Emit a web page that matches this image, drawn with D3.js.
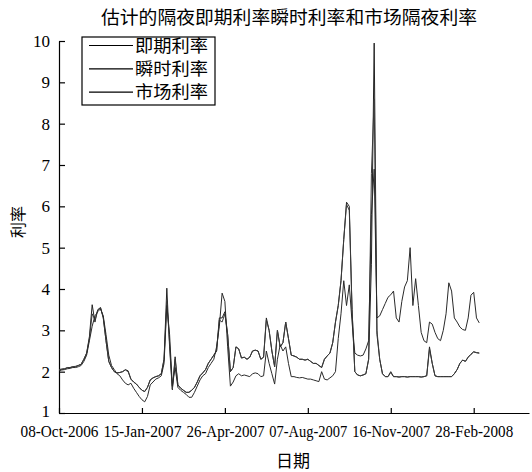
<!DOCTYPE html>
<html>
<head>
<meta charset="utf-8">
<script src="https://cdn.jsdelivr.net/npm/d3@7"></script>
<style>
  body { margin: 0; background: #fff; }
</style>
</head>
<body>
<div class="chart"></div>
<script>
// 即期利率 (estimated overnight spot rate)
const spotRate = [
  2.05, 2.06, 2.07, 2.1, 2.1, 2.12, 2.12, 2.15, 2.18, 2.3,
  2.45, 2.85, 3.62, 3.2, 3.5, 3.55, 3.3, 2.75, 2.25, 2.1,
  2.0, 1.97, 1.98, 2.0, 2.05, 2.02, 1.82, 1.75, 1.7, 1.62,
  1.55, 1.52, 1.62, 1.8, 1.85, 1.88, 1.9, 1.95, 2.3, 4.02,
  2.6, 1.56, 2.36, 1.68, 1.6, 1.55, 1.5, 1.5, 1.55, 1.62,
  1.75, 1.9, 1.97, 2.05, 2.2, 2.3, 2.4, 2.5, 3.3, 3.3,
  3.45, 2.9, 2.0, 2.1, 2.6, 2.55, 2.33, 2.35, 2.3, 2.35,
  2.5, 2.52, 2.5, 2.3, 2.35, 3.3, 3.0, 2.5, 2.12, 3.0,
  2.6, 2.7, 3.2, 2.8, 2.4, 2.38, 2.35, 2.3, 2.3, 2.28,
  2.3, 2.25, 2.2, 2.2, 2.15, 2.1, 2.3, 2.38, 2.45, 2.7,
  3.2, 3.6, 4.2, 5.2, 6.1, 6.0, 3.5, 2.0, 1.92, 1.9,
  1.92, 1.95, 2.3, 4.6, 9.95, 2.9, 2.3, 1.95, 1.88, 1.88,
  2.0, 1.88, 1.88, 1.87, 1.88, 1.88, 1.87, 1.88, 1.88, 1.88,
  1.88, 1.87, 1.88, 1.9, 2.6, 2.2, 1.9, 1.88, 1.88, 1.88,
  1.88, 1.88, 1.88, 1.95, 2.05, 2.2, 2.28, 2.25, 2.35, 2.42,
  2.48, 2.46, 2.45
];

// 瞬时利率 (estimated instantaneous rate)
const instantRate = [
  2.05, 2.06, 2.07, 2.09, 2.1, 2.12, 2.13, 2.15, 2.18, 2.3,
  2.45, 2.8, 3.4, 3.25, 3.48, 3.55, 3.32, 2.75, 2.25, 2.1,
  2.0, 1.97, 1.98, 2.0, 2.04, 2.0, 1.82, 1.75, 1.7, 1.62,
  1.55, 1.52, 1.62, 1.8, 1.85, 1.88, 1.9, 1.95, 2.3, 3.7,
  2.7, 1.58, 2.3, 1.68, 1.6, 1.55, 1.5, 1.5, 1.55, 1.62,
  1.75, 1.9, 1.97, 2.05, 2.2, 2.3, 2.4, 2.5, 3.25, 3.2,
  3.4, 2.9, 2.0, 2.1, 2.6, 2.55, 2.33, 2.35, 2.3, 2.35,
  2.5, 2.52, 2.5, 2.3, 2.35, 3.25, 3.0, 2.5, 2.12, 3.0,
  2.6, 2.7, 3.2, 2.8, 2.4, 2.38, 2.35, 2.3, 2.3, 2.28,
  2.3, 2.25, 2.2, 2.2, 2.15, 2.1, 2.3, 2.38, 2.45, 2.7,
  3.2, 3.6, 4.2, 5.2, 6.05, 5.9, 3.5, 2.0, 1.92, 1.9,
  1.92, 1.95, 2.3, 6.8, 8.6, 3.0, 2.3, 1.95, 1.88, 1.88,
  1.98, 1.88, 1.88, 1.87, 1.88, 1.88, 1.87, 1.88, 1.88, 1.88,
  1.88, 1.87, 1.88, 1.9, 2.55, 2.2, 1.9, 1.88, 1.88, 1.88,
  1.88, 1.88, 1.88, 1.95, 2.05, 2.2, 2.28, 2.25, 2.35, 2.42,
  2.48, 2.46, 2.45
];

// 市场利率 (market overnight rate)
const marketRate = [
  2.02, 2.04, 2.05, 2.07, 2.08, 2.1, 2.1, 2.12, 2.15, 2.25,
  2.4, 2.75, 3.1, 3.35, 3.45, 3.52, 3.35, 2.9, 2.4, 2.15,
  2.05, 1.95, 1.9, 1.8, 1.72, 1.68, 1.72, 1.6, 1.5, 1.4,
  1.32, 1.27, 1.4, 1.68, 1.75, 1.82, 1.85, 1.9, 2.2, 3.6,
  2.9, 1.65, 2.1, 1.62, 1.55, 1.5, 1.45, 1.38, 1.38, 1.5,
  1.65, 1.8, 1.9, 1.95, 2.1, 2.2, 2.3, 2.6, 3.1, 3.9,
  3.7, 2.6, 1.65, 1.75, 1.9, 1.95, 1.9, 1.92, 1.9, 1.88,
  1.95, 1.97, 1.95, 1.88, 1.9, 2.5, 2.2, 1.95, 1.7, 2.3,
  2.65, 2.5, 2.6, 2.2, 1.88, 1.88, 1.86, 1.85, 1.86, 1.84,
  1.82, 1.82, 1.8, 1.78, 1.76, 2.0, 1.82, 1.8, 1.85, 1.9,
  2.0, 2.8, 3.4, 4.2, 3.6, 4.1, 3.2, 2.45, 2.4, 2.38,
  2.4, 2.55, 2.75, 5.8, 6.9, 3.3, 3.35, 3.5, 3.65, 3.8,
  3.86, 3.95, 3.3, 3.2, 3.7, 4.05, 4.2, 5.0, 3.6, 4.25,
  3.6, 2.95, 2.75, 2.7, 3.2, 3.15, 2.95, 2.8, 2.75, 3.0,
  3.4, 4.15, 3.95, 3.3, 3.2, 3.08, 3.02, 3.0, 3.3, 3.85,
  3.92, 3.3, 3.18
];

const tickIndex = [0, 30, 60, 90, 120, 150];
const tickLabels = ["08-Oct-2006", "15-Jan-2007", "26-Apr-2007", "07-Aug-2007", "16-Nov-2007", "28-Feb-2008"];
const seriesNames = ["即期利率", "瞬时利率", "市场利率"];

const width = 532;
const height = 472;
const serif = "'Liberation Serif', 'DejaVu Serif', serif";
const cjk = "'Noto Sans CJK SC', sans-serif";

const svg = d3
  .select(".chart")
  .append("svg")
  .attr("width", width)
  .attr("height", height);

const x = d3.scaleLinear().domain([0, 170]).range([59, 529]);
const y = d3.scaleLinear().domain([1, 10]).range([413, 41]);

// title
svg
  .append("text")
  .attr("x", 289)
  .attr("y", 24)
  .attr("text-anchor", "middle")
  .attr("font-family", cjk)
  .attr("font-size", 18.5)
  .attr("textLength", 376)
  .attr("lengthAdjust", "spacingAndGlyphs")
  .text("估计的隔夜即期利率瞬时利率和市场隔夜利率");

// axes
const xAxis = svg
  .append("g")
  .attr("transform", "translate(0,413)")
  .call(
    d3.axisBottom(x)
      .tickValues(tickIndex)
      .tickFormat((d, i) => tickLabels[i])
      .tickSize(-5)
      .tickSizeOuter(0)
      .tickPadding(12)
  );
xAxis.selectAll("text")
  .attr("font-family", serif)
  .attr("font-size", 17)
  .attr("fill", "#000")
  .attr("textLength", 78)
  .attr("lengthAdjust", "spacingAndGlyphs");

const yAxis = svg
  .append("g")
  .attr("transform", "translate(59,0)")
  .call(
    d3.axisLeft(y)
      .ticks(10)
      .tickFormat(d3.format("d"))
      .tickSize(-6)
      .tickSizeOuter(0)
      .tickPadding(9)
  );
yAxis.selectAll("text")
  .attr("font-family", serif)
  .attr("font-size", 17)
  .attr("fill", "#000");
// the bottom "1" sits a touch higher so it clears the date labels
yAxis.selectAll(".tick text").filter((d) => d === 1).attr("dy", "0.2em");

svg.selectAll(".domain, .tick line").attr("stroke", "#000").attr("stroke-width", 1.2);

// axis titles
svg
  .append("text")
  .attr("x", 293)
  .attr("y", 467)
  .attr("text-anchor", "middle")
  .attr("font-family", cjk)
  .attr("font-size", 17)
  .text("日期");

svg
  .append("text")
  .attr("transform", "translate(17,222) rotate(-90)")
  .attr("text-anchor", "middle")
  .attr("dominant-baseline", "central")
  .attr("font-family", cjk)
  .attr("font-size", 16)
  .text("利率");

// lines
const line = d3.line().x((d, i) => x(i)).y((d) => y(d));
const colors = ["#222", "#3a3a3a", "#2a2a2a"];

[spotRate, instantRate, marketRate].forEach((s, k) => {
  svg
    .append("path")
    .datum(s)
    .attr("fill", "none")
    .attr("stroke", colors[k])
    .attr("stroke-width", 1)
    .attr("d", line);
});

// legend
const legend = svg.append("g");
legend
  .append("rect")
  .attr("x", 82)
  .attr("y", 37)
  .attr("width", 133)
  .attr("height", 68)
  .attr("fill", "#fff")
  .attr("stroke", "#000")
  .attr("stroke-width", 1.2);

seriesNames.forEach((name, i) => {
  const ly = 45.5 + i * 23.3;
  legend
    .append("line")
    .attr("x1", 89)
    .attr("x2", 133)
    .attr("y1", ly)
    .attr("y2", ly)
    .attr("stroke", "#000")
    .attr("stroke-width", 1.2);
  legend
    .append("text")
    .attr("x", 135)
    .attr("y", ly + 6)
    .attr("font-family", cjk)
    .attr("font-size", 17)
    .attr("textLength", 73)
    .attr("lengthAdjust", "spacingAndGlyphs")
    .text(name);
});
</script>
</body>
</html>
